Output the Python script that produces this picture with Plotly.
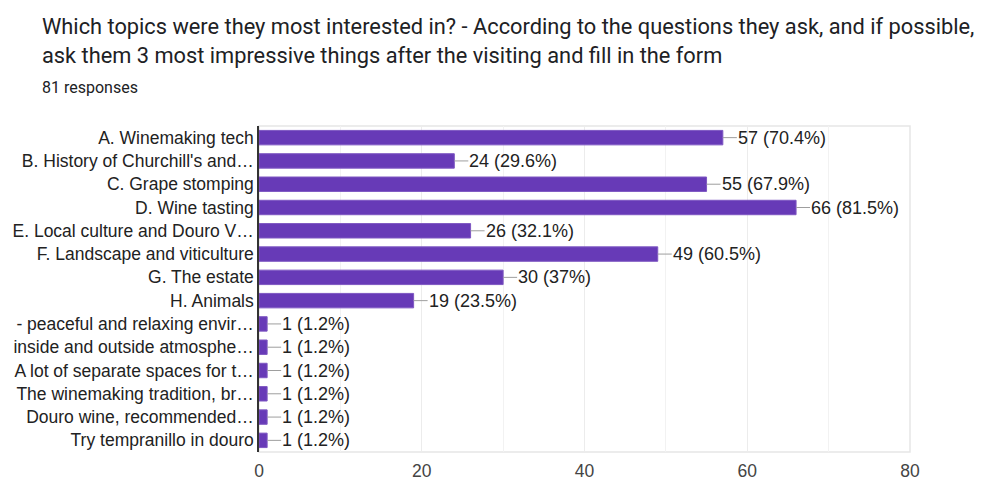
import plotly.graph_objects as go

# Survey answers (multi-select), 81 responses in total
categories = [
    "A. Winemaking tech",
    "B. History of Churchill's and\u2026",
    "C. Grape stomping",
    "D. Wine tasting",
    "E. Local culture and Douro V\u2026",
    "F. Landscape and viticulture",
    "G. The estate",
    "H. Animals",
    "- peaceful and relaxing envir\u2026",
    "inside and outside atmosphe\u2026",
    "A lot of separate spaces for t\u2026",
    "The winemaking tradition, br\u2026",
    "Douro wine, recommended\u2026",
    "Try tempranillo in douro",
]
counts = [57, 24, 55, 66, 26, 49, 30, 19, 1, 1, 1, 1, 1, 1]
percents = ["70.4%", "29.6%", "67.9%", "81.5%", "32.1%", "60.5%", "37%",
            "23.5%", "1.2%", "1.2%", "1.2%", "1.2%", "1.2%", "1.2%"]
x_ticks = [0, 20, 40, 60, 80]

title_line1 = ("Which topics were they most interested in? - According to the "
               "questions they ask, and if possible,")
title_line2 = "ask them 3 most impressive things after the visiting and fill in the form"
subtitle = "81 responses"

W, H = 983, 480
M_L, M_R, M_T, M_B = 259, 73, 126, 28
PLOT_W = W - M_L - M_R
PLOT_H = H - M_T - M_B
LABEL_FONT = "Liberation Sans, Arial, sans-serif"


def px_to_paper_x(px):
    return (px - M_L) / PLOT_W


def px_to_paper_y(py):
    return (H - M_B - py) / PLOT_H


fig = go.Figure()
fig.add_trace(go.Bar(
    x=counts,
    y=categories,
    orientation="h",
    marker=dict(color="#673ab7", line=dict(color="#7e57c2", width=1)),
    hoverinfo="skip",
))

annotations = []
# value labels with a short grey leader line from the bar end
for cat, v, p in zip(categories, counts, percents):
    annotations.append(dict(
        x=v, y=cat, xref="x", yref="y",
        text=f"{v} ({p})",
        showarrow=True, arrowhead=0, arrowwidth=1, arrowcolor="#9e9e9e",
        ax=14, ay=0, xanchor="left", yanchor="middle", standoff=0,
        borderpad=0,
        font=dict(family=LABEL_FONT, size=18, color="#222222"),
    ))

for text, py, size, color in [
    (title_line1, 27, 21.8, "#202124"),
    (title_line2, 56, 21.8, "#202124"),
    (subtitle, 87, 16, "#202124"),
]:
    annotations.append(dict(
        x=px_to_paper_x(40), y=px_to_paper_y(py), xref="paper", yref="paper",
        text=text, showarrow=False, xanchor="left", yanchor="middle",
        font=dict(family="Roboto, sans-serif", size=size, color=color),
    ))

fig.update_layout(
    width=W, height=H,
    margin=dict(l=M_L, r=M_R, t=M_T, b=M_B, pad=0, autoexpand=False),
    paper_bgcolor="white", plot_bgcolor="white",
    bargap=0.38,
    showlegend=False,
    annotations=annotations,
    shapes=[dict(type="rect", xref="paper", yref="paper", x0=0, x1=1, y0=0, y1=1,
                 line=dict(color="#e6e6e6", width=1.5), layer="below")],
    xaxis=dict(
        range=[0, 80], tickmode="array", tickvals=x_ticks,
        showgrid=True, gridcolor="#ececec", gridwidth=1,
        minor=dict(dtick=10, showgrid=True, gridcolor="#f2f2f2", gridwidth=1),
        zeroline=False, showline=False, ticks="",
        ticklabelstandoff=6, automargin=False,
        tickfont=dict(family=LABEL_FONT, size=17.5, color="#444444"),
        fixedrange=True,
    ),
    yaxis=dict(
        autorange="reversed", showgrid=False, zeroline=False,
        showline=True, linecolor="#333333", linewidth=1.5, ticks="",
        ticklabelstandoff=0, automargin=False,
        tickfont=dict(family=LABEL_FONT, size=17.5, color="#222222"),
        fixedrange=True,
    ),
)

fig.write_html("out.html")
